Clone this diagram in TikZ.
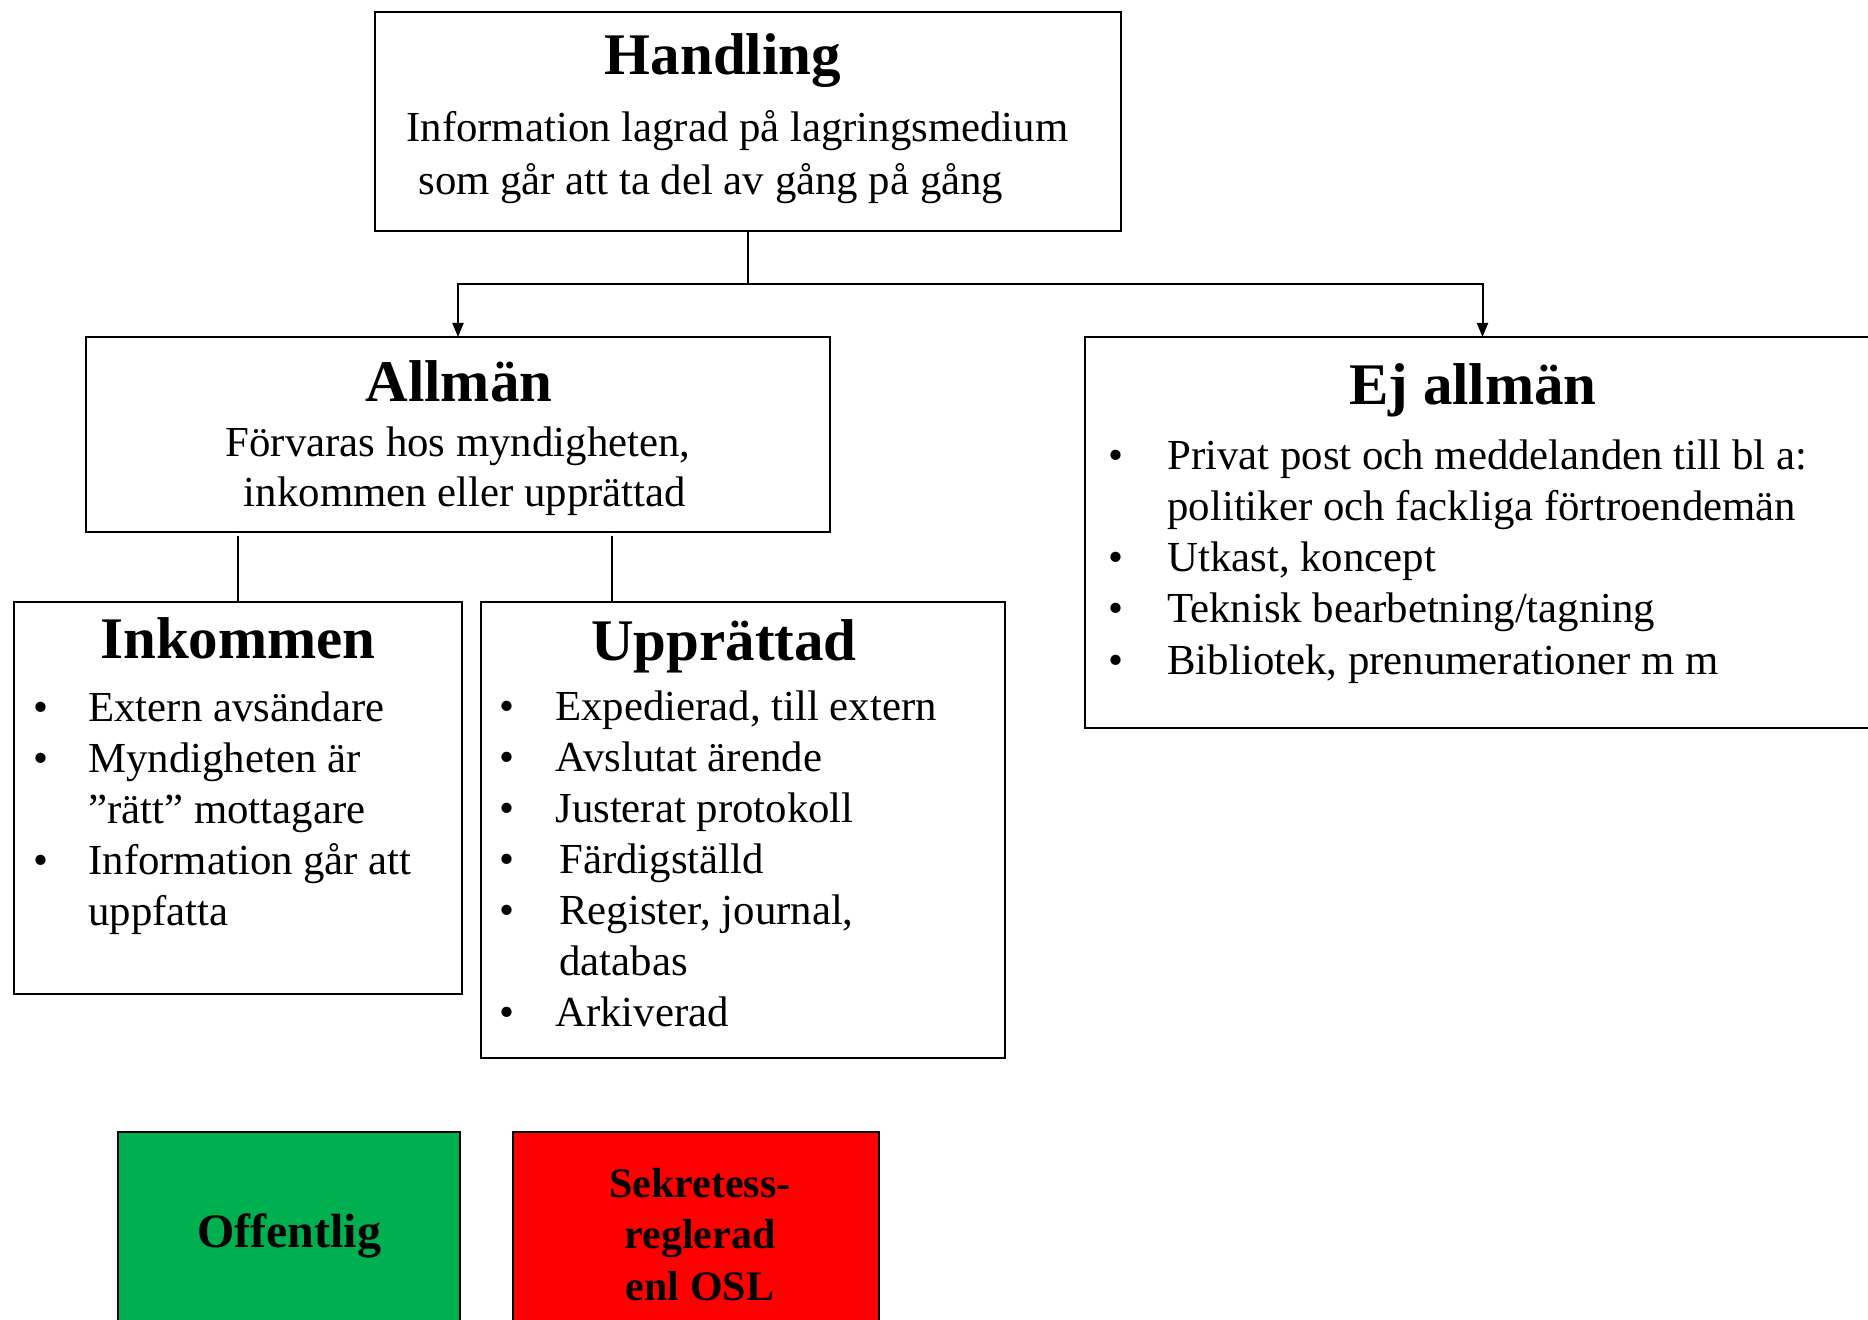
\documentclass[tikz,border=0pt]{standalone}
\usepackage{fontspec}
\setmainfont{Liberation Serif}
\usetikzlibrary{positioning, calc, arrows.meta}

\definecolor{offgreen}{HTML}{00B050}
\definecolor{osred}{HTML}{FF0000}
\newcommand{\bul}[1][27.5pt]{\makebox[#1][l]{•}}

\begin{document}
\begin{tikzpicture}[x=0.5pt, y=-0.5pt]
\tikzset{
    box/.style={
        draw=black,
        line width=1.3pt,
        anchor=north west,
        inner sep=0pt,
        outer sep=0pt,
    },
    title/.style={
        font=\fontsize{29.5}{34}\selectfont\bfseries,
        inner sep=0pt,
        anchor=base,
    },
    txt/.style={
        font=\fontsize{21.4}{25}\selectfont,
        inner sep=0pt,
        anchor=base west,
    },
    ctxt/.style={txt, anchor=base},
    link/.style={line width=1pt},
    >={Triangle[length=7pt, width=5.5pt]},
}

    \useasboundingbox (0,0) rectangle (1868,1320);
    \clip (0,0) rectangle (1868,1320);

    % boxes
    \node[box, minimum width=373pt, minimum height=109.5pt] (handling) at (375,12) {};
    \node[box, minimum width=372pt, minimum height=97.5pt] (allman) at (86,337) {};
    \node[box, minimum width=397.5pt, minimum height=195.5pt] (ejallman) at (1085,337) {};
    \node[box, minimum width=224pt, minimum height=196pt] (inkommen) at (14,602) {};
    \node[box, minimum width=262pt, minimum height=228pt] (upprattad) at (481,602) {};
    \node[box, fill=offgreen, minimum width=171pt, minimum height=110pt] (offentlig) at (118,1132) {};
    \node[box, fill=osred, minimum width=183pt, minimum height=110pt] (sekretess) at ([xshift=26.5pt]offentlig.north east) {};

    % "contents" of handling
    \node[title] (handlingtitle) at (723,75) {Handling};
    \node[txt] (handlingA) at (406,142) {Information lagrad på lagringsmedium};
    \node[txt] (handlingB) at (418,195) {som går att ta del av gång på gång};

    % "contents" of allman
    \node[title] (allmantitle) at (459,402) {Allmän};
    \node[ctxt] (allmanA) at (458,457) {Förvaras hos myndigheten,};
    \node[ctxt] (allmanB) at (465,507) {inkommen eller upprättad};

    % "contents" of ejallman
    \node[title] (ejtitle) at (1473,405) {Ej allmän};
    \node[txt] (ejA) at (1108,470) {\bul[29.5pt]Privat post och meddelanden till bl a:};
    \node[txt] (ejB) at (1167,521) {politiker och fackliga förtroendemän};
    \node[txt] (ejC) at (1108,572) {\bul[29.5pt]Utkast, koncept};
    \node[txt] (ejD) at (1108,623) {\bul[29.5pt]Teknisk bearbetning/tagning};
    \node[txt] (ejE) at (1108,674) {\bul[29.5pt]Bibliotek, prenumerationer m m};

    % "contents" of inkommen
    \node[title] (inktitle) at (238,658) {Inkommen};
    \node[txt] (inkA) at (33,721) {\bul Extern avsändare};
    \node[txt] (inkB) at (33,772) {\bul Myndigheten är};
    \node[txt] (inkC) at (88,823) {”rätt” mottagare};
    \node[txt] (inkD) at (33,874) {\bul Information går att};
    \node[txt] (inkE) at (88,925) {uppfatta};

    % "contents" of upprattad
    \node[title] (upptitle) at (724,660) {Upprättad};
    \node[txt] (uppA) at (499,720) {\bul[28pt]Expedierad, till extern};
    \node[txt] (uppB) at (499,771) {\bul[28pt]Avslutat ärende};
    \node[txt] (uppC) at (499,822) {\bul[28pt]Justerat protokoll};
    \node[txt] (uppD) at (499,873) {\bul[30pt]Färdigställd};
    \node[txt] (uppE) at (499,924) {\bul[30pt]Register, journal,};
    \node[txt] (uppF) at (559,975) {databas};
    \node[txt] (uppG) at (499,1026) {\bul[28pt]Arkiverad};

    % "contents" of the coloured boxes
    \node[title, font=\fontsize{24}{28}\selectfont\bfseries] (offtext) at (289,1247) {Offentlig};
    \node[ctxt, font=\fontsize{21}{25}\selectfont\bfseries] (sekA) at (700,1197) {Sekretess-};
    \node[ctxt, font=\fontsize{21}{25}\selectfont\bfseries] (sekB) at (700,1248) {reglerad};
    \node[ctxt, font=\fontsize{21}{25}\selectfont\bfseries] (sekC) at (700,1300) {enl OSL};

    % arrows
    \coordinate (split) at ($(handling.south)+(0,53)$);
    \draw[link] (handling.south) -- (split);
    \draw[link, ->] (split) -| (allman.north);
    \draw[link, ->] (split) -| (ejallman.north);

    \coordinate (allmanbot) at ([yshift=-2pt]allman.south);
    \coordinate (uppin) at ($(upprattad.north west)!.25!(upprattad.north east)$);
    \draw[link] (allmanbot -| inkommen.north) -- (inkommen.north);
    \draw[link] (allmanbot -| uppin) -- (uppin);

\end{tikzpicture}
\end{document}
